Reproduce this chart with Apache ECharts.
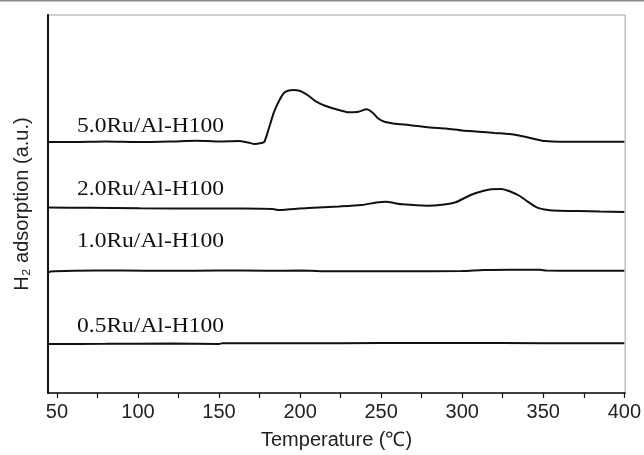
<!DOCTYPE html>
<html>
<head>
<meta charset="utf-8">
<script src="https://cdn.jsdelivr.net/npm/echarts@6/dist/echarts.min.js"></script>
<style>html,body{margin:0;padding:0;background:#fff;}#c{width:644px;height:455px;}</style>
</head>
<body>
<div id="c"></div>
<script>
// Temperature (°C) and signal (a.u.)
const t50 = [44.5, 60, 80, 100, 120, 136, 150, 162, 168, 172, 176, 178, 181, 184, 187, 190, 193, 196, 199, 201, 205, 210, 215, 220, 225, 230, 236, 241, 245, 248, 252, 260, 267, 280, 290, 300, 310, 320, 329, 335, 340, 346, 351, 360, 370, 385, 400];
const v50 = [251, 251, 251.5, 251, 251.5, 252.3, 251.5, 252, 250.5, 249, 250, 251.3, 266, 281.3, 292, 300, 302.5, 303, 302.5, 301.3, 297.5, 291.3, 287.5, 284.7, 282.5, 280.7, 281.3, 283.7, 280, 274.7, 271.3, 269, 268, 265.5, 264.5, 262.5, 261.3, 260, 259, 257.5, 255.7, 253.5, 252, 251.3, 251.3, 251.3, 251.3];

const t20 = [44.5, 70, 101, 142, 165, 183, 187, 192, 205, 224, 238, 247, 253, 258, 263, 278, 289, 296, 302, 308, 314, 318, 324, 330, 335, 339, 346, 353, 360, 372, 385, 400];
const v20 = [185.5, 185.2, 184.7, 184.5, 184.5, 184, 183, 183.5, 185, 186.5, 188, 190.5, 191.3, 190, 188.7, 187.3, 188.5, 190.7, 195.5, 199.7, 202.5, 203.7, 204, 201.3, 197.5, 193, 185.7, 183, 182.3, 182, 181.5, 181];

const t10 = [44.5, 46, 60, 90, 120, 150, 180, 200, 220, 260, 300, 313, 330, 348, 352, 370, 400];
const v10 = [120, 121.5, 122.3, 122.5, 122.2, 122.5, 122.3, 122.4, 121.8, 121.8, 122, 123, 123.3, 123.3, 122.4, 122.3, 122.2];

const t05 = [44.5, 80, 120, 150, 152, 200, 250, 300, 350, 400];
const v05 = [49, 49.2, 49.4, 49, 49.7, 49.7, 50, 50, 49.8, 49.7];

const xTicks = [50, 75, 100, 125, 150, 175, 200, 225, 250, 275, 300, 325, 350, 375, 400];
const xLabels = [50, 100, 150, 200, 250, 300, 350, 400];
const seriesNames = ['5.0Ru/Al-H100', '2.0Ru/Al-H100', '1.0Ru/Al-H100', '0.5Ru/Al-H100'];

function pairs(t, v) { return t.map((x, i) => [x, v[i]]); }

const chart = echarts.init(document.getElementById('c'), null, {renderer: 'canvas'});
const lineStyle = {color: '#111', width: 2};
const mk = (name, t, v) => ({
  name, type: 'line', data: pairs(t, v), showSymbol: false, symbol: 'none',
  smooth: 0.25, lineStyle, silent: true, animation: false
});
const sans = '"Liberation Sans", Arial, sans-serif';
const labelFont = '21px "Liberation Serif", "Times New Roman", serif';
const labelY = [126, 189, 241.5, 326.5];

chart.setOption({
  animation: false,
  backgroundColor: '#fff',
  grid: {left: 48, right: 17, top: 15, bottom: 62, show: true, borderColor: '#a0a0a0', borderWidth: 1, backgroundColor: '#fff'},
  xAxis: {
    type: 'value', min: 44.5, max: 400.5,
    name: 'Temperature (\u2103)', nameLocation: 'middle', nameGap: 37,
    nameTextStyle: {fontFamily: sans, fontSize: 20, color: '#222'},
    axisLine: {show: true, lineStyle: {color: '#111', width: 1.5}},
    axisTick: {show: true, inside: false, length: 5, customValues: xTicks, lineStyle: {color: '#111', width: 1.2}},
    axisLabel: {customValues: xLabels, fontFamily: sans, fontSize: 20, color: '#222', margin: 9},
    splitLine: {show: false}
  },
  yAxis: {
    type: 'value', min: 0, max: 378,
    name: 'H\u2082 adsorption (a.u.)', nameLocation: 'middle', nameRotate: 90, nameGap: 16,
    nameTextStyle: {fontFamily: sans, fontSize: 20, color: '#222'},
    axisLine: {show: true, lineStyle: {color: '#111', width: 2}},
    axisTick: {show: false}, axisLabel: {show: false}, splitLine: {show: false}
  },
  series: [mk(seriesNames[0], t50, v50), mk(seriesNames[1], t20, v20), mk(seriesNames[2], t10, v10), mk(seriesNames[3], t05, v05)],
  graphic: [
    {type: 'rect', shape: {x: 0, y: 0, width: 644, height: 1.5}, style: {fill: '#8a8a8a'}, silent: true},
    ...seriesNames.map((n, i) => ({
      type: 'text', x: 77, y: labelY[i], scaleX: 1.12, silent: true,
      style: {text: n, font: labelFont, fill: '#111', verticalAlign: 'middle', align: 'left'}
    }))
  ]
});
</script>
</body>
</html>
